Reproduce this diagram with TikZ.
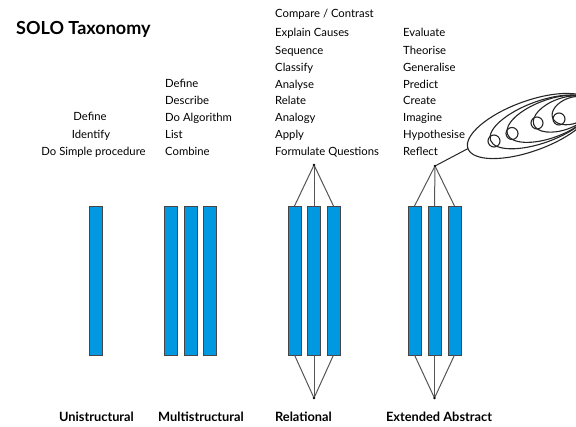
\documentclass[tikz,border=0pt]{standalone}
\usepackage{fontspec}
\setmainfont{Lato}
\usetikzlibrary{shapes.geometric}
\definecolor{barblue}{RGB}{0,152,224}
\definecolor{barline}{RGB}{70,70,70}
\definecolor{connc}{RGB}{85,85,85}
\begin{document}
\begin{tikzpicture}[x=1pt,y=-1pt,
  lbl/.style={font=\fontsize{11.3}{13}\selectfont, inner sep=0pt, text height=8pt, text depth=2.4pt},
  lblw/.style={lbl, anchor=west},
  levelcap/.style={font=\bfseries\fontsize{12.8}{15}\selectfont, inner sep=0pt, text height=9pt, text depth=2.6pt},
  bar/.style={draw=barline, fill=barblue, line width=0.8pt, minimum width=13pt, minimum height=149pt, inner sep=0pt, outer sep=0pt},
  conn/.style={draw=connc, line width=1pt},
  apex/.style={circle, fill=black, inner sep=0pt, minimum size=2.6pt, outer sep=0pt},
  oval/.style={ellipse, draw=black!85, line width=1.1pt, inner sep=0pt, outer sep=0pt, rotate=20},
  ring/.style={circle, draw=black!85, line width=1.1pt, inner sep=0pt, outer sep=0pt, minimum size=12pt}
]
\useasboundingbox (0,0) rectangle (576,426);
\clip (0,0) rectangle (576,426);

% title
\node[font=\bfseries\fontsize{18}{21}\selectfont, anchor=west, inner sep=0pt, text height=12pt, text depth=3.5pt] (title) at (16,30) {SOLO Taxonomy};

% unistructural texts
\node[lbl] (u-t1) at (90,118) {Define};
\node[lbl] (u-t2) at (91,135.5) {Identify};
\node[lbl] (u-t3) at (93.5,153) {Do Simple procedure};

% multistructural texts
\node[lblw] (m-t1) at (165,85) {Define};
\node[lblw] (m-t2) at (165,102) {Describe};
\node[lblw] (m-t3) at (165,118.5) {Do Algorithm};
\node[lblw] (m-t4) at (165,135.5) {List};
\node[lblw] (m-t5) at (165,153) {Combine};

% relational texts
\node[lblw] (r-t0) at (275,15) {Compare / Contrast};
\node[lblw] (r-t1) at (275,34) {Explain Causes};
\node[lblw] (r-t2) at (275,51.5) {Sequence};
\node[lblw] (r-t3) at (275,68.5) {Classify};
\node[lblw] (r-t4) at (275,85.5) {Analyse};
\node[lblw] (r-t5) at (275,102) {Relate};
\node[lblw] (r-t6) at (275,119) {Analogy};
\node[lblw] (r-t7) at (275,136) {Apply};
\node[lblw] (r-t8) at (275,153) {Formulate Questions};

% extended abstract texts
\node[lblw] (e-t1) at (403,34) {Evaluate};
\node[lblw] (e-t2) at (403,51.5) {Theorise};
\node[lblw] (e-t3) at (403,68.5) {Generalise};
\node[lblw] (e-t4) at (403,85.5) {Predict};
\node[lblw] (e-t5) at (403,102) {Create};
\node[lblw] (e-t6) at (403,119) {Imagine};
\node[lblw] (e-t7) at (403,136) {Hypothesise};
\node[lblw] (e-t8) at (403,153) {Reflect};

% bars
\node[bar] (u1) at (95.5,280.5) {};
\node[bar] (m1) at (170.5,280.5) {};
\node[bar] (m2) at (190.5,280.5) {};
\node[bar] (m3) at (209.5,280.5) {};
\node[bar] (r1) at (294.5,280.5) {};
\node[bar] (r2) at (314,280.5) {};
\node[bar] (r3) at (333.5,280.5) {};
\node[bar] (e1) at (414.5,280.5) {};
\node[bar] (e2) at (434.5,280.5) {};
\node[bar] (e3) at (454.5,280.5) {};

% apexes
\node[apex] (rtop) at (314,165) {};
\node[apex] (rbot) at (314,398) {};
\node[apex] (etop) at (435,166) {};
\node[apex] (ebot) at (434.5,398) {};

% connectors
\foreach \b in {r1,r2,r3} {
  \draw[conn] (rtop) -- (\b.north);
  \draw[conn] (rbot) -- (\b.south);
}
\foreach \b in {e1,e2,e3} {
  \draw[conn] (etop) -- (\b.north);
  \draw[conn] (ebot) -- (\b.south);
}

% thought bubble
\node[oval, minimum width=132pt, minimum height=50pt] (big) at (530,126) {};
\node[oval, minimum width=108pt, minimum height=41.6pt] (in1) at (541.3,121.9) {};
\node[oval, minimum width=90pt, minimum height=38pt] (in2) at (549.7,118.8) {};
\node[oval, minimum width=62pt, minimum height=31.4pt] (in3) at (562.9,114.0) {};
\node[oval, minimum width=42pt, minimum height=26pt] (in4) at (572.3,110.6) {};
\node[ring] (c1) at (494,141) {};
\node[ring] (c2) at (512,133.5) {};
\node[ring] (c3) at (537,123) {};
\node[ring] (c4) at (559,119) {};
\draw[conn, draw=black!85] (etop) -- (big.west);

% captions
\node[levelcap] (cap-u) at (96.5,418) {Unistructural};
\node[levelcap] (cap-m) at (201,418) {Multistructural};
\node[levelcap] (cap-r) at (303.5,418) {Relational};
\node[levelcap] (cap-e) at (439,418) {Extended Abstract};
\end{tikzpicture}
\end{document}
